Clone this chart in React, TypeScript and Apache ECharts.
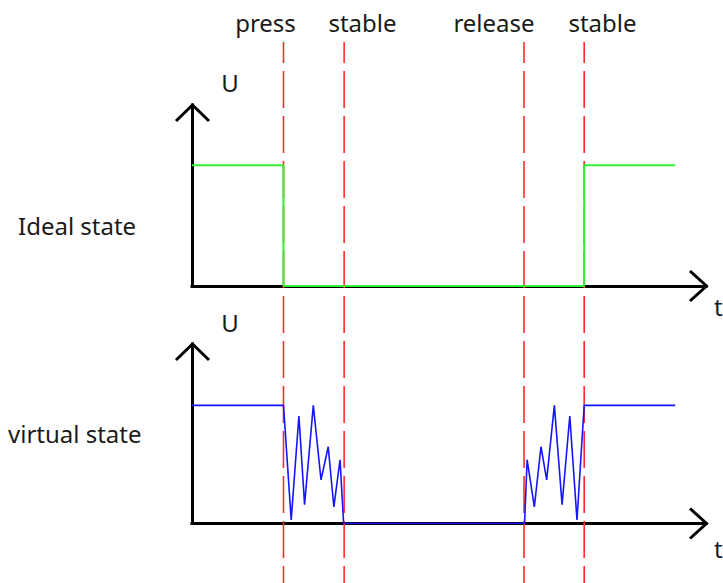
import React, { useEffect, useRef } from "react";
import * as echarts from "echarts";

// ---- data (time in arbitrary units 0..100, voltage U normalised, high = 1) ----
const timeMax = 100;
const eventTimes = [17.8, 29.6, 64.6, 76.3];
const eventLabels = ["press", "stable", "release", "stable"];

const idealT = [0, 17.8, 17.8, 76.3, 76.3, 94];
const idealU = [1, 1, 0, 0, 1, 1];

const virtualT = [0, 17.8, 19.3, 20.8, 21.9, 23.6, 25.1, 26.5, 27.6, 28.8, 29.5, 64.7, 65.2, 66.6, 67.9, 69.0, 70.5, 72.0, 73.5, 74.9, 76.3, 94];
const virtualU = [1, 1, 0.03, 0.91, 0.16, 1.0, 0.37, 0.65, 0.14, 0.54, 0, 0, 0.54, 0.14, 0.65, 0.37, 1.0, 0.16, 0.91, 0.03, 1, 1];

const rowLabels = ["Ideal state", "virtual state"];
const axisNames = ["U", "t"];

// ---- layout ----
const W = 723;
const H = 583;
const LEFT = 192;
const AXIS_W = 514;
const TOP1 = 105;
const H1 = 181;
const TOP2 = 344;
const H2 = 179.5;
const FONT = "'Noto Sans', 'Open Sans', sans-serif";
const TEXT_COLOR = "#1b1b1b";

const zip = (xs: number[], ys: number[]) => xs.map((x, i) => [x, ys[i]]);

export default function App() {
  const ref = useRef<HTMLDivElement>(null);

  useEffect(() => {
    if (!ref.current) return;
    const chart = echarts.init(ref.current, undefined, { renderer: "svg" });

    const axisLine = {
      show: true,
      lineStyle: { color: "#000", width: 3, cap: "square" as const },
    };
    const mkX = (gridIndex: number, show = true) => ({
      type: "value" as const,
      gridIndex,
      min: 0,
      max: timeMax,
      show,
      axisLine,
      axisTick: { show: false },
      axisLabel: { show: false },
      splitLine: { show: false },
    });
    const mkY = (gridIndex: number, max: number, show = true) => ({
      type: "value" as const,
      gridIndex,
      min: 0,
      max,
      show,
      axisLine,
      axisTick: { show: false },
      axisLabel: { show: false },
      splitLine: { show: false },
    });

    const eventSeries = eventTimes.map((t, i) => ({
      type: "line" as const,
      name: "event-" + eventLabels[i] + "-" + i,
      xAxisIndex: 2,
      yAxisIndex: 2,
      data: [
        [t, 1],
        [t, 0],
      ],
      symbol: "none",
      silent: true,
      z: 3,
      lineStyle: { color: "#ff2b2b", width: 1.6, type: [37, 8], dashOffset: 15.6 },
    }));

    const chevron = (pts: number[][]) => ({
      type: "polyline" as const,
      shape: { points: pts },
      style: { stroke: "#000", lineWidth: 3, fill: null, lineJoin: "miter" as const },
      z: 10,
    });

    const text = (
      str: string,
      x: number,
      y: number,
      align: "left" | "center" = "center"
    ) => ({
      type: "text" as const,
      x,
      y,
      style: {
        text: str,
        fill: TEXT_COLOR,
        font: `24px ${FONT}`,
        textAlign: align,
        textVerticalAlign: "middle" as const,
      },
      z: 10,
    });

    const labelX = [265.5, 362.5, 494, 602.5];

    chart.setOption({
      animation: false,
      backgroundColor: "#fff",
      grid: [
        { left: LEFT, top: TOP1, width: AXIS_W, height: H1 },
        { left: LEFT, top: TOP2, width: AXIS_W, height: H2 },
        { left: LEFT, top: 42, width: AXIS_W, height: H - 42 },
      ],
      xAxis: [mkX(0), mkX(1), mkX(2, false)],
      yAxis: [mkY(0, 1.5), mkY(1, 1.52), mkY(2, 1, false)],
      series: [
        ...eventSeries,
        {
          type: "line",
          name: "Ideal state",
          xAxisIndex: 0,
          yAxisIndex: 0,
          data: zip(idealT, idealU),
          symbol: "none",
          silent: true,
          z: 5,
          lineStyle: { color: "#33ee33", width: 2 },
        },
        {
          type: "line",
          name: "virtual state",
          xAxisIndex: 1,
          yAxisIndex: 1,
          data: zip(virtualT, virtualU),
          symbol: "none",
          silent: true,
          z: 5,
          lineStyle: { color: "#1414ff", width: 1.6 },
        },
      ],
      graphic: [
        // arrows for the axes
        chevron([[LEFT - 16, TOP1 + 16], [LEFT + 0.5, TOP1], [LEFT + 17, TOP1 + 16]]),
        chevron([[LEFT + AXIS_W - 16, TOP1 + H1 - 15], [LEFT + AXIS_W + 0.5, TOP1 + H1], [LEFT + AXIS_W - 16, TOP1 + H1 + 15]]),
        chevron([[LEFT - 16, TOP2 + 16], [LEFT + 0.5, TOP2], [LEFT + 17, TOP2 + 16]]),
        chevron([[LEFT + AXIS_W - 16, TOP2 + H2 - 15], [LEFT + AXIS_W + 0.5, TOP2 + H2], [LEFT + AXIS_W - 16, TOP2 + H2 + 15]]),
        // event labels
        ...eventLabels.map((s, i) => text(s, labelX[i], 22)),
        // axis names
        text(axisNames[0], 230, 82),
        text(axisNames[0], 230, 322),
        text(axisNames[1], 714, 306, "left"),
        text(axisNames[1], 714, 548, "left"),
        // row labels
        text(rowLabels[0], 18, 225, "left"),
        text(rowLabels[1], 8, 433, "left"),
      ],
    });

    return () => chart.dispose();
  }, []);

  return (
    <div
      ref={ref}
      style={{ position: "fixed", left: 0, top: 0, width: W, height: H, background: "#fff" }}
    />
  );
}
